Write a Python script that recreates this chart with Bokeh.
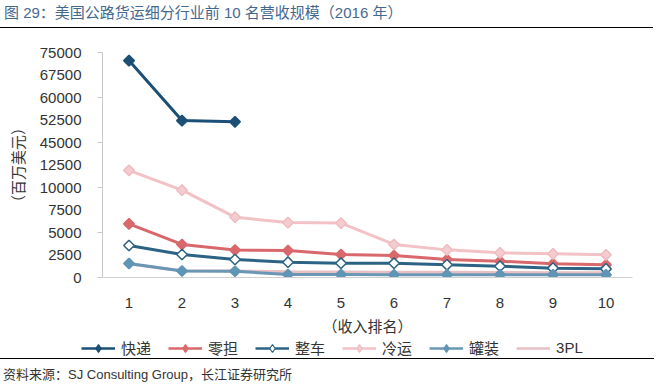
from bokeh.plotting import figure
from bokeh.models import FixedTicker, Legend, LegendItem, Div, Range1d
from bokeh.layouts import column, row
from bokeh.embed import file_html
from bokeh.resources import INLINE
import math

# ---------------- data (百万美元) ----------------
ranks = list(range(1, 11))
x_tick_labels = [str(r) for r in ranks]

express_rev = [72300, 52300, 51900]                                        # 快递 (only top 3)
ltl_rev = [5960, 3670, 3050, 3000, 2560, 2440, 2000, 1810, 1520, 1410]     # 零担
tl_rev = [3560, 2560, 2000, 1700, 1590, 1590, 1410, 1260, 1040, 960]       # 整车
cold_rev = [11900, 9700, 6700, 6100, 6050, 3670, 3070, 2740, 2630, 2520]   # 冷运
tank_rev = [1560, 720, 690, 330, 320, 300, 300, 300, 300, 300]             # 罐装
tpl_rev = [1500, 760, 730, 640, 610, 590, 570, 550, 530, 520]              # 3PL

# broken y axis: 0-12500 linear, then 45000-75000 compressed 3:1
y_tick_pos = [0, 2500, 5000, 7500, 10000, 12500, 15000, 17500, 20000, 22500, 25000]
y_tick_labels = ["0", "2500", "5000", "7500", "10000", "12500",
                 "45000", "52500", "60000", "67500", "75000"]
y_minor_pos = [0, 5000, 10000, 15000, 20000, 25000]

def disp(v):
    return v if v <= 12500 else 15000 + (v - 45000) / 3.0

LATIN_CJK = "Liberation Sans, Noto Sans CJK SC"
TXT = "#333333"
W = 657

p = figure(width=W, height=310, x_range=Range1d(0.5, 10.5), y_range=Range1d(0, 25000),
           output_backend="svg", toolbar_location=None,
           min_border_left=102, min_border_right=25, min_border_top=24, min_border_bottom=61)
p.outline_line_color = None
p.xgrid.visible = False
p.ygrid.visible = False
p.background_fill_color = "white"
p.border_fill_color = "white"

# axes
p.xaxis.ticker = FixedTicker(ticks=ranks)
p.xaxis.major_label_overrides = {r: l for r, l in zip(ranks, x_tick_labels)}
p.xaxis.axis_line_color = "#d0d0d0"
p.xaxis.major_tick_line_color = None
p.xaxis.minor_tick_line_color = None
p.xaxis.major_tick_out = 0
p.xaxis.major_tick_in = 0
p.xaxis.major_label_standoff = 20
p.xaxis.major_label_text_font_size = "15px"
p.xaxis.major_label_text_font = LATIN_CJK
p.xaxis.major_label_text_color = TXT
p.xaxis.axis_label = "（收入排名）"
p.xaxis.axis_label_text_font_size = "15px"
p.xaxis.axis_label_text_font = LATIN_CJK
p.xaxis.axis_label_text_font_style = "normal"
p.xaxis.axis_label_text_color = TXT
p.xaxis.axis_label_standoff = 7

p.yaxis.ticker = FixedTicker(ticks=y_tick_pos, minor_ticks=y_minor_pos)
p.yaxis.major_label_overrides = {t: l for t, l in zip(y_tick_pos, y_tick_labels)}
p.yaxis.axis_line_color = "#c8c8c8"
p.yaxis.major_tick_line_color = None
p.yaxis.major_tick_out = 0
p.yaxis.major_tick_in = 0
p.yaxis.minor_tick_line_color = "#c8c8c8"
p.yaxis.minor_tick_out = 5
p.yaxis.minor_tick_in = 0
p.yaxis.major_label_standoff = 16
p.yaxis.major_label_text_font_size = "15px"
p.yaxis.major_label_text_font = LATIN_CJK
p.yaxis.major_label_text_color = TXT
p.yaxis.axis_label = "（百万美元）"
p.yaxis.axis_label_text_font_size = "15px"
p.yaxis.axis_label_text_font = LATIN_CJK
p.yaxis.axis_label_text_font_style = "normal"
p.yaxis.axis_label_text_color = TXT
p.yaxis.axis_label_standoff = 10

series = [
    # name, values, line color, marker fill, marker line
    ("3PL", tpl_rev, "#e8bfc2", None, None),
    ("快递", express_rev, "#1b4f75", "#1b4f75", "#1b4f75"),
    ("零担", ltl_rev, "#d9686c", "#d9686c", "#d9686c"),
    ("整车", tl_rev, "#2c6384", "white", "#2c6384"),
    ("冷运", cold_rev, "#f2c2c6", "#f4ccd0", "#efbcc1"),
    ("罐装", tank_rev, "#6a97b5", "#5f95b5", "#5f95b5"),
]

# legend strip: a separate figure; its renderers use the same series data,
# which lies outside this strip's (0..1) y range, so only the legend shows.
lg = figure(width=W, height=20, x_range=Range1d(0.5, 10.5), y_range=Range1d(0, 1),
            output_backend="svg", toolbar_location=None,
            x_axis_location=None, y_axis_location=None,
            min_border_left=0, min_border_right=0, min_border_top=0, min_border_bottom=0)
lg.outline_line_color = None
lg.xgrid.visible = False
lg.ygrid.visible = False

proxies = {}
for name, vals, lc, mf, ml in series:
    xs = ranks[:len(vals)]
    ys = [disp(v) for v in vals]
    p.line(xs, ys, line_color=lc, line_width=3)
    lr = [lg.line(xs, ys, line_color=lc, line_width=2.5)]
    if mf is not None:
        p.scatter(xs, ys, marker="square", angle=math.pi / 4, size=7.5,
                  fill_color=mf, line_color=ml, line_width=1.5)
        lr.append(lg.scatter(xs, ys, marker="diamond", size=8,
                             fill_color=mf, line_color=ml, line_width=1.2))
    proxies[name] = lr

legend_order = ["快递", "零担", "整车", "冷运", "罐装", "3PL"]
items = [LegendItem(label=n, renderers=proxies[n]) for n in legend_order]
legend = Legend(items=items, orientation="horizontal", location=(81, 0),
                glyph_width=34, glyph_height=20, label_width=30, label_height=20,
                label_standoff=6, spacing=17, padding=0, margin=0,
                border_line_color=None, background_fill_alpha=0,
                label_text_font_size="15px", label_text_font=LATIN_CJK,
                label_text_color=TXT)
lg.add_layout(legend)

title_text = "图 29：美国公路货运细分行业前 10 名营收规模（2016 年）"
header = Div(text=('<div style="font-family:\'Liberation Sans\',\'Noto Sans CJK SC\';'
                   'font-size:15px;color:#45688e;line-height:17px;padding:4px 0 6px 4px;'
                   'border-bottom:1px solid #000;width:653px;white-space:nowrap">'
                   + title_text + '</div>'),
             width=W, height=28, margin=0)

source_text = "资料来源：SJ Consulting Group，长江证券研究所"
footer = Div(text=('<div style="font-family:\'Liberation Sans\',\'Noto Sans CJK SC\';'
                   'font-size:13px;color:#333;line-height:16px;padding:8px 0 0 3px;'
                   'border-top:1px solid #000;width:654px;white-space:nowrap">'
                   + source_text + '</div>'),
             width=W, height=31, margin=0)

layout = column(header, p, row(lg, width=W, height=20), footer, spacing=0)
open("out.html", "w").write(file_html(layout, INLINE))
